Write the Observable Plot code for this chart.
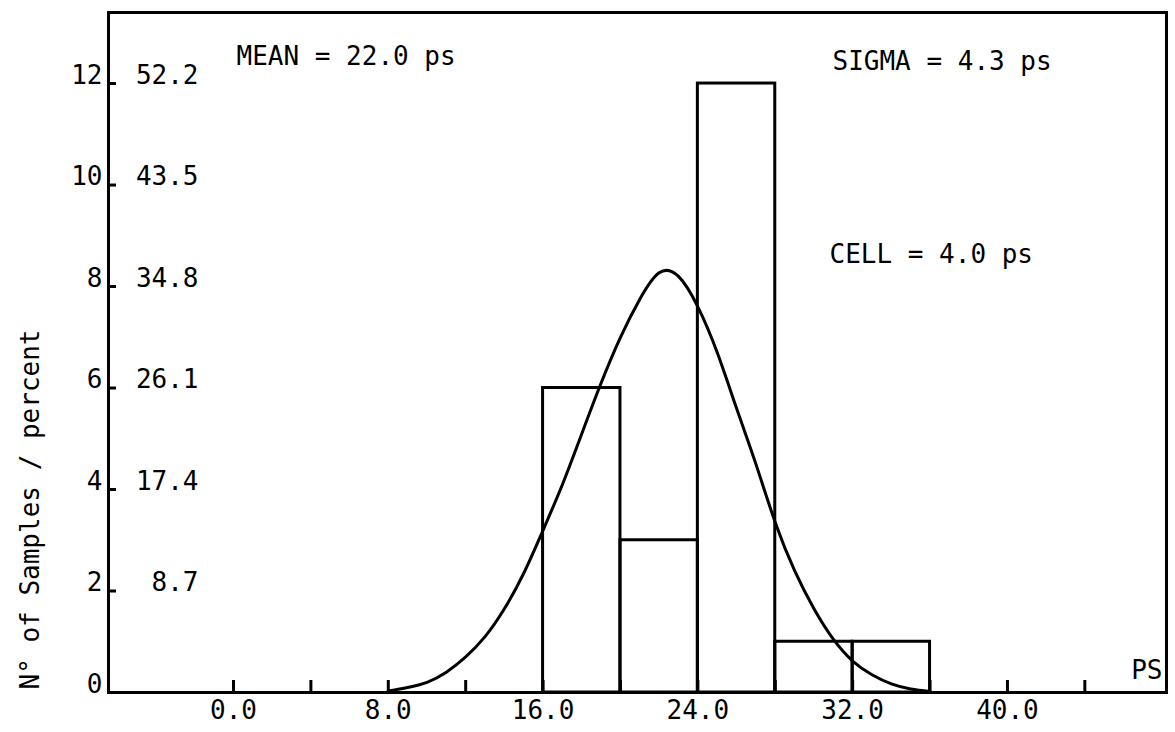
<!DOCTYPE html>
<html>
<head>
<meta charset="utf-8">
<script src="https://cdn.jsdelivr.net/npm/d3@7"></script>
<script src="https://cdn.jsdelivr.net/npm/@observablehq/plot@0.6"></script>
<style>
  html, body { margin: 0; padding: 0; background: #fff; }
  #chart svg { display: block; }
</style>
</head>
<body>
<div id="chart"></div>
<script>
// Histogram cells (ps) and sample counts
const binStart = [16, 20, 24, 28, 32];
const binEnd   = [20, 24, 28, 32, 36];
const counts   = [6, 3, 12, 1, 1];

// Left axis: counts, with matching percentages printed inside the frame
const countTicks   = [0, 2, 4, 6, 8, 10, 12];
const percentTicks = ["", "8.7", "17.4", "26.1", "34.8", "43.5", "52.2"];

// Bottom axis
const xTickLabels = [0, 8, 16, 24, 32, 40];
const xMinorTicks = [0, 4, 8, 12, 16, 20, 24, 28, 32, 36, 40, 44];

// Fitted normal curve, sampled points
const fitX = [8, 9, 10, 11, 12, 13, 14, 15, 16, 17, 18, 19, 20, 21, 22, 23, 24, 25, 26, 27, 28, 29, 30, 31, 32, 33, 34, 35, 36];
const fitY = [0.03, 0.1, 0.2, 0.4, 0.7, 1.1, 1.65, 2.35, 3.2, 4.1, 5.1, 6.1, 7.0, 7.75, 8.27, 8.2, 7.6, 6.7, 5.6, 4.5, 3.35, 2.4, 1.65, 1.05, 0.62, 0.35, 0.17, 0.07, 0.02];

// Annotation texts
const meanText  = "MEAN = 22.0 ps";
const sigmaText = "SIGMA = 4.3 ps";
const cellText  = "CELL = 4.0 ps";
const unitText  = "PS";
const yTitle    = "N° of Samples / percent";

const bins = binStart.map((s, i) => ({x1: s, x2: binEnd[i], n: counts[i]}));
const fit = fitX.map((x, i) => ({x, y: fitY[i]}));
const pct = countTicks.map((c, i) => ({c, t: percentTicks[i]}));

const W = 1175, H = 732;
const mL = 108, mR = 9, mT = 12, mB = 40;
const xDomain = [-6.46, 48.22];
const yDomain = [0, 13.4];
const pxPerX = (W - mL - mR) / (xDomain[1] - xDomain[0]);
const pxPerY = (H - mT - mB) / (yDomain[1] - yDomain[0]);

const ink = "#000";
const lw = 3;

const note = (t, dx, dy) =>
  Plot.text([t], {frameAnchor: "top-left", dx, dy, textAnchor: "start", lineAnchor: "top", fill: ink});

const chart = Plot.plot({
  width: W,
  height: H,
  marginLeft: mL,
  marginRight: mR,
  marginTop: mT,
  marginBottom: mB,
  style: {fontFamily: "'DejaVu Sans Mono', monospace", fontSize: "26px", color: ink, background: "#fff"},
  x: {domain: xDomain},
  y: {domain: yDomain},
  marks: [
    Plot.rect(bins, {x1: "x1", x2: "x2", y1: 0, y2: "n", fill: "none", stroke: ink, strokeWidth: lw}),
    Plot.line(fit, {x: "x", y: "y", curve: "natural", stroke: ink, strokeWidth: lw}),
    Plot.frame({stroke: ink, strokeWidth: lw}),
    // inward tick marks
    Plot.ruleX(xMinorTicks, {x: d => d, y1: 0, y2: 12 / pxPerY, stroke: ink, strokeWidth: lw}),
    Plot.ruleY(countTicks, {y: d => d, x1: xDomain[0], x2: xDomain[0] + 8 / pxPerX, stroke: ink, strokeWidth: lw}),
    Plot.axisX(xTickLabels, {tickSize: 0, tickPadding: 8, tickFormat: d3.format(".1f"), label: null, fill: ink}),
    Plot.axisY(countTicks, {tickSize: 0, tickPadding: 6, tickFormat: d => String(d), label: null, dy: -8, fill: ink}),
    Plot.text(pct, {y: "c", text: "t", frameAnchor: "left", dx: 90, dy: -8, textAnchor: "end", fill: ink}),
    note(meanText, 128, 34),
    note(sigmaText, 724, 39),
    note(cellText, 721, 232),
    Plot.text([unitText], {frameAnchor: "top-right", dx: -4, dy: 648, textAnchor: "end", lineAnchor: "top", fill: ink}),
    Plot.text([yTitle], {frameAnchor: "left", rotate: -90, dx: -70, dy: 157, textAnchor: "middle", lineAnchor: "bottom", fill: ink})
  ]
});

document.getElementById("chart").appendChild(chart);
</script>
</body>
</html>
